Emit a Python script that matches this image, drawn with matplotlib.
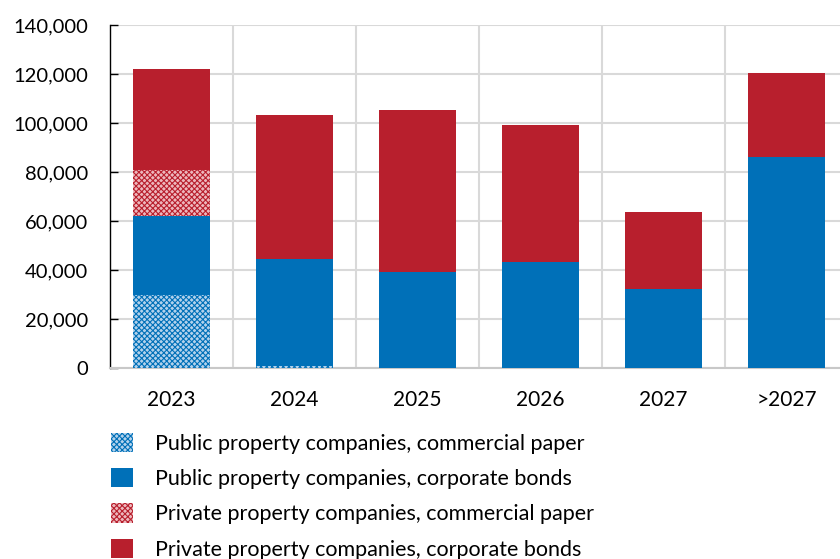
import matplotlib.pyplot as plt
from matplotlib.patches import Patch
import numpy as np

plt.rcParams['font.family'] = ['Lato', 'DejaVu Sans']
plt.rcParams['hatch.linewidth'] = 0.8

years = ['2023', '2024', '2025', '2026', '2027', '>2027']
pub_cp = [30000, 1000, 0, 0, 0, 0]
pub_bonds = [32000, 43500, 39200, 43300, 32200, 86100]
priv_cp = [18800, 0, 0, 0, 0, 0]
priv_bonds = [41200, 58800, 66100, 55900, 31500, 34300]

labels = ['Public property companies, commercial paper',
          'Public property companies, corporate bonds',
          'Private property companies, commercial paper',
          'Private property companies, corporate bonds']

blue = '#0070b8'
red = '#b81f2d'
lblue = '#b3d2ec'
lred = '#edb8bd'

fig = plt.figure(figsize=(8.4, 5.59), dpi=100)
ax = fig.add_axes([110/840, 191/559, 738/840, 343/559])

x = np.arange(len(years))
w = 0.63
bottom = np.zeros(len(years))

# stacked bars, commercial paper hatched
ax.bar(x, pub_cp, w, bottom=bottom, facecolor=lblue, edgecolor=blue,
       hatch='xxxxxx', linewidth=0, zorder=3)
bottom += pub_cp
ax.bar(x, pub_bonds, w, bottom=bottom, color=blue, linewidth=0, zorder=3)
bottom += pub_bonds
ax.bar(x, priv_cp, w, bottom=bottom, facecolor=lred, edgecolor=red,
       hatch='xxxxxx', linewidth=0, zorder=3)
bottom += priv_cp
ax.bar(x, priv_bonds, w, bottom=bottom, color=red, linewidth=0, zorder=3)

ax.set_xlim(-0.5, len(years) - 0.5)
ax.set_ylim(0, 140000)
ax.set_yticks(range(0, 140001, 20000))
ax.yaxis.set_major_formatter(plt.FuncFormatter(lambda v, p: f'{int(v):,}'))
ax.set_xticks(x)
ax.set_xticklabels(years)

# grid
ax.grid(axis='y', color='#d9d9d9', linewidth=1.5, zorder=0)
for xv in np.arange(0.5, len(years) - 0.5, 1):
    ax.axvline(xv, color='#d9d9d9', linewidth=1.5, zorder=0)

for s in ['top', 'right']:
    ax.spines[s].set_visible(False)
ax.spines['left'].set_color('black')
ax.spines['left'].set_linewidth(1.0)
ax.spines['bottom'].set_color('#c8c8c8')
ax.spines['bottom'].set_linewidth(1.5)
ax.tick_params(axis='y', direction='in', length=6, width=1, labelsize=14.5, pad=16)
ax.tick_params(axis='x', length=0, labelsize=15, pad=16)

handles = [
    Patch(facecolor=lblue, edgecolor=blue, hatch='xxxxxx', linewidth=0),
    Patch(facecolor=blue, linewidth=0),
    Patch(facecolor=lred, edgecolor=red, hatch='xxxxxx', linewidth=0),
    Patch(facecolor=red, linewidth=0),
]
fig.legend(handles, labels, loc='upper left', bbox_to_anchor=(111/840, 1 - 433/559),
           frameon=False, fontsize=15.5, handlelength=1.0, handleheight=1.0,
           handletextpad=1.05, labelspacing=0.66, borderpad=0, borderaxespad=0)

fig.savefig('out.png', dpi=100)
